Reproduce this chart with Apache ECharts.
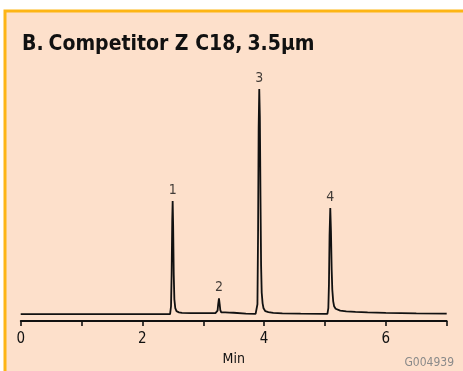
<!DOCTYPE html>
<html><head><meta charset="utf-8">
<script src="https://cdn.jsdelivr.net/npm/echarts@6/dist/echarts.min.js"></script>
<style>html,body{margin:0;padding:0;background:#fff}#c{width:463px;height:371px}</style>
</head><body><div id="c"></div>
<script>
// retention time (min) of trace points
const traceTime = [0, 1.0, 2.0, 2.455, 2.47, 2.48, 2.49, 2.497, 2.505, 2.515, 2.525, 2.54, 2.56, 2.6, 2.65, 2.8, 3.0, 3.2,
  3.22, 3.235, 3.245, 3.258, 3.27, 3.28, 3.295, 3.32, 3.36, 3.38, 3.43, 3.46, 3.5, 3.53, 3.7, 3.86,
  3.875, 3.89, 3.9, 3.91, 3.92, 3.93, 3.94, 3.95, 3.96, 3.975, 3.99, 4.02, 4.07, 4.15, 4.3, 4.6, 5.0,
  5.04, 5.055, 5.065, 5.075, 5.087, 5.098, 5.11, 5.12, 5.135, 5.15, 5.175, 5.2, 5.25, 5.35, 5.5, 5.7, 6.0, 6.5, 7.0];
// detector signal (arbitrary units) at those times
const traceSignal = [0, 0, 0, 0, 8, 40, 95, 115, 90, 40, 15, 6, 3, 1.8, 1.2, 1.1, 1.0, 1.0,
  1.0, 3.5, 10, 16, 10, 4, 1.8, 1.2, 1.8, 1.0, 1.6, 0.8, 1.4, 0.8, 0.6, 0.3,
  0.3, 10, 80, 190, 229, 200, 120, 50, 22, 11, 6, 3, 2, 1.2, 0.8, 0.5, 0.3,
  0.3, 6, 30, 80, 108, 85, 45, 25, 13, 8, 5.5, 4.5, 3.5, 2.8, 2.3, 1.8, 1.3, 0.8, 0.5];
// peak labels
const peakNames = ['1', '2', '3', '4'];
const peakTimes = [2.497, 3.258, 3.92, 5.087];
const peakHeights = [115, 16, 229, 108];
const xTicks = [0, 2, 4, 6];

const chart = echarts.init(document.getElementById('c'), null, {renderer: 'canvas'});
const condensed = '"DejaVu Sans Condensed", "Liberation Sans Narrow", sans-serif';
chart.setOption({
  animation: false,
  backgroundColor: '#ffffff',
  graphic: [
    {type: 'rect', z: -10, shape: {x: 5, y: 11, width: 480, height: 380},
     style: {fill: '#fde0cb', stroke: '#fdb515', lineWidth: 3}},
    {type: 'text', right: 9, top: 357, z: 10,
     style: {text: 'G004939', fill: '#8a8a8a', font: '12px ' + condensed}}
  ],
  title: {
    left: 17, top: 29,
    text: '{a|B.} {b|Competitor Z C18,} {a|3.5µm}',
    textStyle: {
      rich: {
        a: {fontFamily: condensed, fontWeight: 'bold', fontSize: 21, color: '#111'},
        b: {fontFamily: condensed, fontWeight: 'bold', fontSize: 21, color: '#111'}
      }
    }
  },
  grid: {left: 20.7, right: 16.3, top: 85, bottom: 46},
  xAxis: {
    type: 'value', min: 0, max: 7, interval: 1,
    name: 'Min', nameLocation: 'middle', nameGap: 31,
    nameTextStyle: {fontFamily: condensed, fontSize: 14, color: '#111'},
    axisLine: {show: true, onZero: false, lineStyle: {color: '#111', width: 1.8}},
    axisTick: {show: true, length: 5, lineStyle: {color: '#111', width: 1.6}},
    axisLabel: {margin: 11, fontFamily: condensed, fontSize: 15, color: '#111',
      formatter: v => xTicks.indexOf(v) >= 0 ? String(v) : ''},
    splitLine: {show: false}
  },
  yAxis: {type: 'value', min: -7, max: 233, show: false, splitLine: {show: false}},
  series: [
    {type: 'line', symbol: 'none', smooth: false,
     lineStyle: {color: '#111', width: 1.8},
     data: traceTime.map((t, i) => [t, traceSignal[i]])},
    {type: 'scatter', symbolSize: 0,
     label: {show: true, position: 'top', distance: 4, fontFamily: condensed, fontSize: 14, color: '#111',
       formatter: p => p.data.name},
     data: peakTimes.map((t, i) => ({name: peakNames[i], value: [t, peakHeights[i]]}))}
  ]
});
</script></body></html>
